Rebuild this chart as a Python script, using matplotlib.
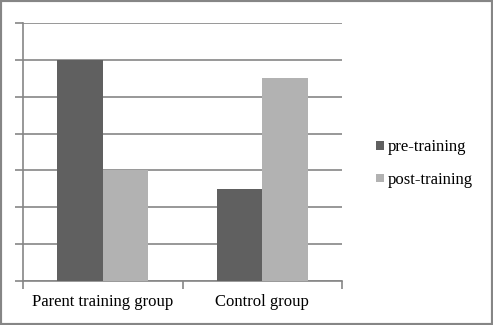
import matplotlib.pyplot as plt
import numpy as np
from matplotlib.patches import Rectangle

groups = ["Parent training group", "Control group"]
series = ["pre-training", "post-training"]
pre_values = [6, 2.5]
post_values = [3, 5.5]
colors = ["#606060", "#b2b2b2"]
grid_color = "#868686"

plt.rcParams['font.family'] = ['Liberation Serif', 'DejaVu Serif']

fig = plt.figure(figsize=(4.93, 3.25), dpi=100)
W, H = 493, 325
ax = fig.add_axes([23 / W, (H - 281) / H, (342 - 23) / W, (281 - 23) / H])

x = np.arange(len(groups))
width = 0.285
ax.bar(x - width / 2, pre_values, width, color=colors[0], label=series[0], zorder=3)
ax.bar(x + width / 2, post_values, width, color=colors[1], label=series[1], zorder=3)

ax.set_xlim(-0.5, 1.5)
ax.set_ylim(0, 7)
ax.set_yticks(np.arange(0, 8))
ax.set_yticklabels([])
ax.yaxis.grid(True, color=grid_color, linewidth=1.2, zorder=0)
ax.tick_params(axis='y', length=6, color=grid_color, width=1.2)

ax.set_xticks(x)
ax.set_xticklabels(groups, fontsize=12)
ax.set_xticks([-0.5, 0.5, 1.5], minor=True)
ax.tick_params(axis='x', which='major', length=0, pad=9)
ax.tick_params(axis='x', which='minor', length=6, color=grid_color, width=1.2)

for s in ['top', 'right']:
    ax.spines[s].set_visible(False)
for s in ['left', 'bottom']:
    ax.spines[s].set_color(grid_color)
    ax.spines[s].set_linewidth(1.2)

ax.legend(loc='center left', bbox_to_anchor=(1.06, 0.455), frameon=False,
          fontsize=12, handlelength=0.45, handleheight=0.45,
          handletextpad=0.25, labelspacing=1.0)

fig.patches.append(Rectangle((0, 0), 1, 1, transform=fig.transFigure,
                             fill=False, edgecolor=grid_color, linewidth=3))

fig.savefig("out.png", dpi=100)
